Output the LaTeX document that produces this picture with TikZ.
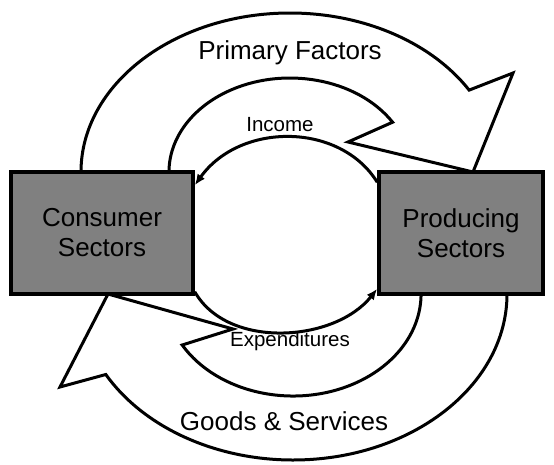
\documentclass[tikz,border=0pt]{standalone}
\usepackage{fontspec}
\setmainfont{Liberation Sans}
\usetikzlibrary{arrows.meta}
\definecolor{boxgray}{HTML}{808080}
\begin{document}
\begin{tikzpicture}[x=1pt,y=-1pt,
  blockarrow/.style={draw=black, line width=3pt, fill=white, line join=miter},
  sector/.style={draw=black, line width=3.5pt, fill=boxgray, align=center,
    inner sep=0pt, font=\fontsize{26}{30}\selectfont},
  flow/.style={draw=black, line width=3pt, -{Latex[length=11pt,width=9pt]}},
  biglabel/.style={inner sep=0pt, font=\fontsize{26}{30}\selectfont},
  smalllabel/.style={inner sep=0pt, font=\fontsize{20.5}{24}\selectfont}]
\useasboundingbox (0,0) rectangle (554,464);
% Primary factors block arrow
\draw[blockarrow] (81,172) arc[start angle=180, end angle=329, x radius=209, y radius=159]
  -- (513,73) -- (473,172) -- (348,142) -- (392.6,122.2)
  arc[start angle=328, end angle=180, x radius=121, y radius=94] -- cycle;
% Goods & services block arrow
\draw[blockarrow] (507,294) arc[start angle=0, end angle=151, x radius=214, y radius=166]
  -- (60,387) -- (108,294) -- (233,329) -- (182.2,345)
  arc[start angle=150, end angle=0, x radius=128, y radius=102] -- cycle;
% sectors
\node[sector, minimum width=182pt, minimum height=122pt] (cons) at (102,233) {Consumer\\Sectors};
\node[sector, minimum width=164pt, minimum height=122pt] (prod) at (461,233) {Producing\\Sectors};
% flows
\draw[flow] ([yshift=-12pt]prod.north west) .. controls (340,122) and (240,122) .. ([yshift=-15pt]cons.north east);
\draw[flow] ([yshift=4pt]cons.south east) .. controls (228,350) and (335,342) .. ([yshift=7pt]prod.south west);
% labels
\node[biglabel] (pf) at (290,53) {Primary Factors};
\node[smalllabel] (inc) at (280,125) {Income};
\node[smalllabel] (exp) at (290,341) {Expenditures};
\node[biglabel] (gs) at (284,421) {Goods \& Services};
\end{tikzpicture}
\end{document}
